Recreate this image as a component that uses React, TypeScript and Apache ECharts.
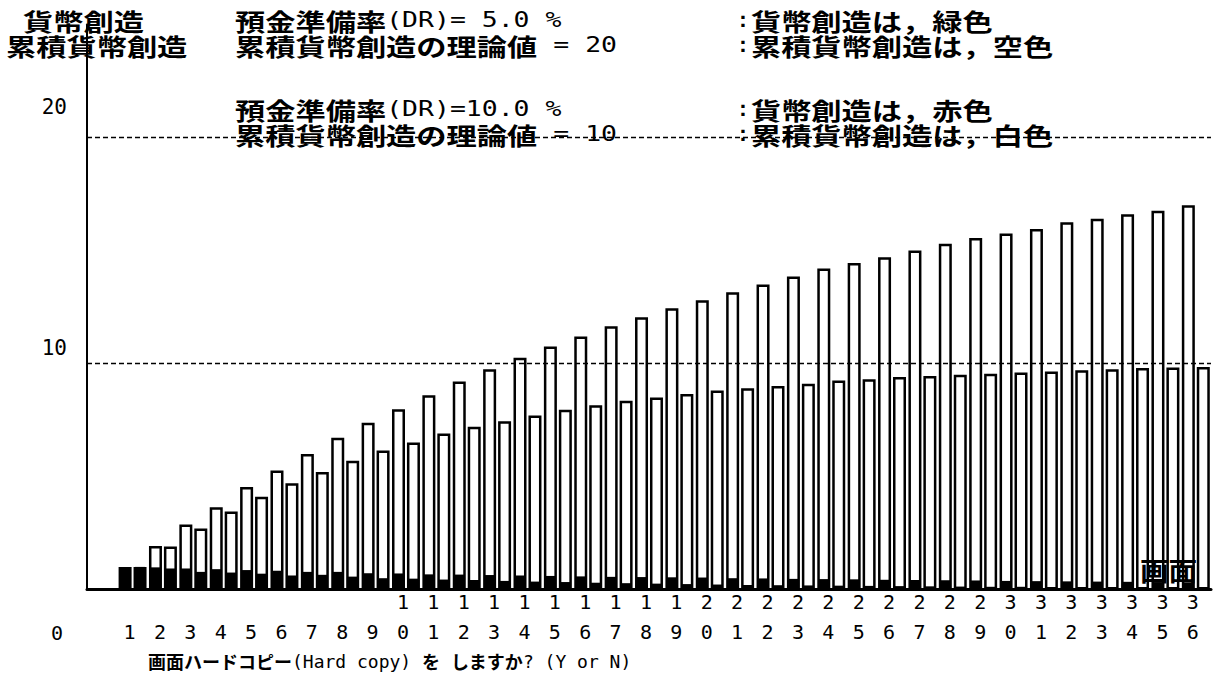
import React, { useEffect, useRef } from "react";
import * as echarts from "echarts";

// ---- data ----
const categories = [
  "0", "1", "2", "3", "4", "5", "6", "7", "8", "9", "10", "11", "12",
  "13", "14", "15", "16", "17", "18", "19", "20", "21", "22", "23", "24",
  "25", "26", "27", "28", "29", "30", "31", "32", "33", "34", "35", "36",
];
// cumulative money creation, DR = 5.0 % (periods 1..36)
const cumulative5 = [
  1.0, 1.93, 2.88, 3.64, 4.53, 5.27, 6.0, 6.72, 7.38, 7.98, 8.6, 9.2,
  9.75, 10.25, 10.75, 11.2, 11.65, 12.05, 12.45, 12.8, 13.15, 13.5, 13.85, 14.2,
  14.45, 14.7, 15.0, 15.3, 15.55, 15.75, 15.95, 16.25, 16.4, 16.6, 16.76, 17.0,
];
// cumulative money creation, DR = 10.0 %
const cumulative10 = [
  1.0, 1.9, 2.7, 3.45, 4.1, 4.7, 5.2, 5.7, 6.15, 6.5, 6.9, 7.2,
  7.45, 7.7, 7.95, 8.15, 8.35, 8.5, 8.65, 8.8, 8.9, 9.0, 9.1, 9.25,
  9.3, 9.4, 9.45, 9.5, 9.55, 9.6, 9.65, 9.7, 9.75, 9.8, 9.82, 9.85,
];
// money creation per period, DR = 5.0 %
const creation5 = [
  1.0, 0.98, 0.93, 0.9, 0.86, 0.83, 0.78, 0.78, 0.72, 0.71, 0.67, 0.66,
  0.64, 0.62, 0.6, 0.58, 0.56, 0.55, 0.54, 0.53, 0.5, 0.49, 0.47, 0.46,
  0.45, 0.43, 0.42, 0.41, 0.4, 0.38, 0.37, 0.36, 0.35, 0.34, 0.33, 0.32,
];
// money creation per period, DR = 10.0 %
const creation10 = [
  1.0, 0.93, 0.78, 0.75, 0.7, 0.62, 0.65, 0.57, 0.5, 0.48, 0.44, 0.42,
  0.38, 0.35, 0.33, 0.3, 0.28, 0.26, 0.24, 0.22, 0.2, 0.19, 0.18, 0.17,
  0.16, 0.15, 0.14, 0.13, 0.12, 0.12, 0.11, 0.1, 0.1, 0.09, 0.09, 0.08,
];
const theoryValues = [20, 10];
const yTickValues = [10, 20];
const originLabel = "0";

const headerLeft = ["貨幣創造", "累積貨幣創造"];
const headerMid = [
  "預金準備率(DR)= 5.0 %",
  "累積貨幣創造の理論値 = 20",
  "預金準備率(DR)=10.0 %",
  "累積貨幣創造の理論値 = 10",
];
const headerRight = [
  ":貨幣創造は，緑色",
  ":累積貨幣創造は，空色",
  ":貨幣創造は，赤色",
  ":累積貨幣創造は，白色",
];
const promptText = "画面ハードコピー(Hard copy) を しますか? (Y or N)";
const glitchText = "画面";

// ---- styling ----
const MONO = '"DejaVu Sans Mono", "Liberation Mono", monospace';
const CJK = '"Noto Sans CJK JP", sans-serif';

function toRich(str: string): string {
  let out = "";
  let cur = "";
  let curType = "";
  for (const ch of str) {
    const t = ch.charCodeAt(0) > 0x2000 ? "c" : "a";
    if (t !== curType && cur) {
      out += `{${curType}|${cur}}`;
      cur = "";
    }
    curType = t;
    cur += ch;
  }
  if (cur) out += `{${curType}|${cur}}`;
  return out;
}

function headerText(str: string, x: number, y: number, scale = 1.26, cjkSize = 24, asciiSize = 21) {
  return {
    type: "text",
    x,
    y,
    scaleX: scale,
    silent: true,
    z: 100,
    style: {
      text: toRich(str),
      textAlign: "left",
      textVerticalAlign: "middle",
      verticalAlign: "middle",
      rich: {
        c: { fontFamily: CJK, fontSize: cjkSize, fontWeight: "bold", fill: "#000" },
        a: { fontFamily: MONO, fontSize: asciiSize, fill: "#000" },
      },
    },
  };
}

const pad = (arr: number[]) => [null, ...arr];

export default function App() {
  const ref = useRef<HTMLDivElement>(null);
  useEffect(() => {
    if (!ref.current) return;
    const chart = echarts.init(ref.current, null, { renderer: "svg" });
    const rowsY = [20, 45, 109, 134];
    const graphics: any[] = [];
    headerLeft.forEach((s, i) => graphics.push(headerText(s, i === 0 ? 23 : 6, rowsY[i])));
    headerMid.forEach((s, i) => graphics.push(headerText(s, 235, rowsY[i])));
    headerRight.forEach((s, i) => graphics.push(headerText(s, 735, rowsY[i])));
    graphics.push(headerText(promptText, 148, 661, 1, 18, 18));
    graphics.push(headerText(glitchText, 1140, 570, 1.1, 26, 20));
    graphics.push({
      type: "text",
      x: 57,
      y: 633,
      silent: true,
      style: {
        text: originLabel,
        fontFamily: MONO,
        fontSize: 20,
        fill: "#000",
        textAlign: "center",
        textVerticalAlign: "middle",
        verticalAlign: "middle",
      },
    });

    const hollow = {
      color: "rgba(0,0,0,0)",
      borderColor: "#000",
      borderWidth: 2.5,
    };

    chart.setOption({
      animation: false,
      backgroundColor: "#ffffff",
      grid: { left: 87, right: 2, top: 24.5, bottom: 85.5 },
      xAxis: [
        {
          type: "category",
          data: categories,
          axisLine: { show: true, lineStyle: { color: "#000", width: 3 } },
          axisTick: { show: false },
          splitLine: { show: false },
          axisLabel: {
            interval: 0,
            fontFamily: MONO,
            fontSize: 20,
            color: "#000",
            lineHeight: 30,
            margin: -3,
            padding: [0, 6, 0, 0],
            formatter: (v: string) =>
              v === "0" ? "" : v.length > 1 ? `${v[0]}\n${v[1]}` : ` \n${v}`,
          },
        },
        { type: "category", data: categories, show: false },
      ],
      yAxis: [
        {
          type: "value",
          min: 0,
          max: 25,
          axisLine: { show: true, lineStyle: { color: "#000", width: 2 } },
          axisTick: { show: false },
          axisLabel: { show: false },
          splitLine: { show: false },
        },
        {
          type: "value",
          min: 0,
          max: 23.44,
          position: "left",
          axisLine: { show: false },
          axisTick: { show: false },
          splitLine: { show: false },
          axisLabel: {
            customValues: yTickValues,
            fontFamily: MONO,
            fontSize: 21,
            color: "#000",
            margin: 20,
          },
        },
      ],
      graphic: graphics,
      series: [
        {
          type: "bar",
          name: "累積貨幣創造 DR=5.0%",
          data: pad(cumulative5),
          barWidth: 13,
          barGap: "15%",
          itemStyle: hollow,
          z: 2,
          silent: true,
          markLine: {
            silent: true,
            symbol: "none",
            label: { show: false },
            lineStyle: { color: "#000", type: [5, 3], width: 1.3 },
            data: theoryValues.map((v) => ({ yAxis: v })),
          },
        },
        {
          type: "bar",
          name: "累積貨幣創造 DR=10.0%",
          data: pad(cumulative10),
          barWidth: 13,
          itemStyle: hollow,
          z: 2,
          silent: true,
        },
        {
          type: "bar",
          name: "貨幣創造 DR=5.0%",
          xAxisIndex: 1,
          data: pad(creation5),
          barWidth: 10,
          barGap: "49.5%",
          itemStyle: { color: "#000" },
          z: 3,
          silent: true,
        },
        {
          type: "bar",
          name: "貨幣創造 DR=10.0%",
          xAxisIndex: 1,
          data: pad(creation10),
          barWidth: 10,
          itemStyle: { color: "#000" },
          z: 3,
          silent: true,
        },
      ],
    });
    return () => chart.dispose();
  }, []);
  return (
    <div
      ref={ref}
      style={{ position: "fixed", left: 0, top: 0, width: 1213, height: 675, background: "#fff" }}
    />
  );
}
